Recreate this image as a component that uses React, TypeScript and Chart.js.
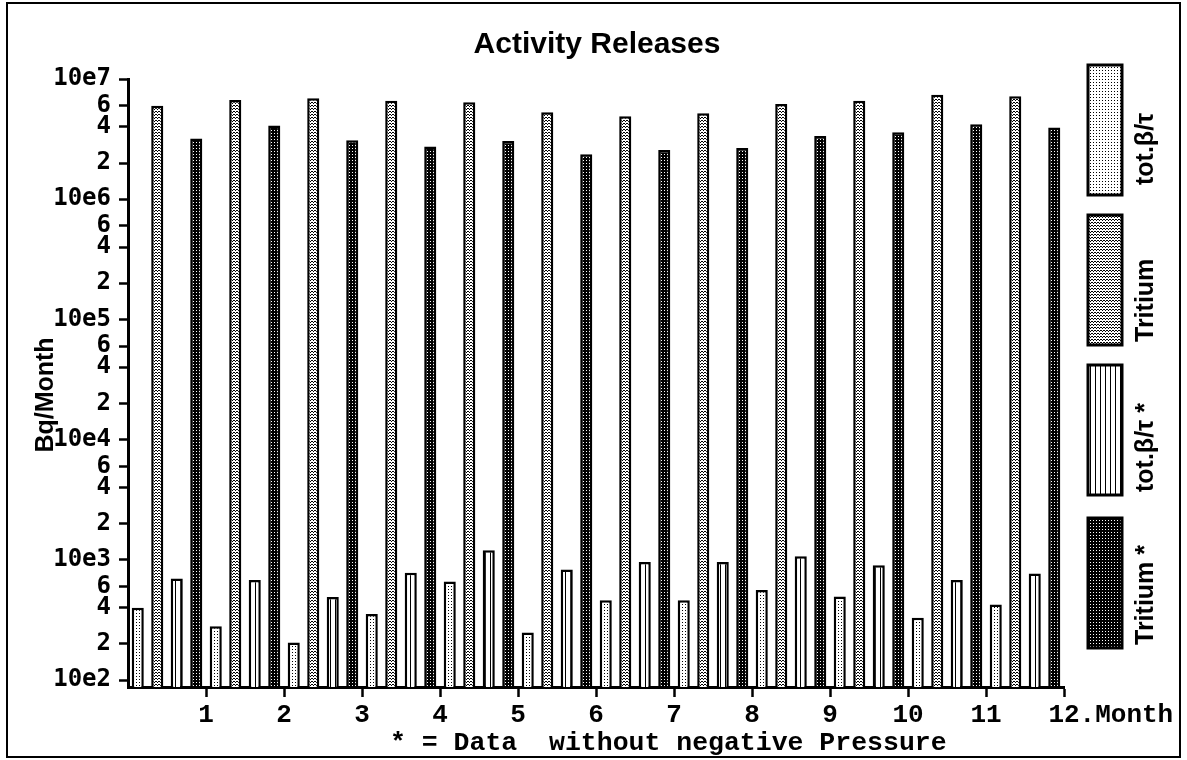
import React, { useEffect, useRef } from "react";
import { Chart, registerables } from "chart.js";

Chart.register(...registerables);

// ---------- data ----------
const MONTHS = ["1", "2", "3", "4", "5", "6", "7", "8", "9", "10", "11", "12"];
const SERIES_LABELS = ["tot.β/τ", "Tritium", "tot.β/τ *", "Tritium *"];
const TOT_BETA = [400, 280, 205, 355, 660, 248, 460, 460, 560, 495, 330, 425];
const TRITIUM = [6.0e6, 6.7e6, 6.9e6, 6.6e6, 6.4e6, 5.3e6, 4.9e6, 5.2e6, 6.2e6, 6.6e6, 7.4e6, 7.2e6];
const TOT_BETA_STAR = [700, 680, 490, 780, 1200, 830, 960, 960, 1070, 900, 680, 770];
const TRITIUM_STAR = [3.2e6, 4.1e6, 3.1e6, 2.75e6, 3.05e6, 2.37e6, 2.57e6, 2.67e6, 3.35e6, 3.6e6, 4.2e6, 3.95e6];
const Y_TICKS = [
  1e2, 2e2, 4e2, 6e2, 1e3, 2e3, 4e3, 6e3, 1e4, 2e4, 4e4, 6e4,
  1e5, 2e5, 4e5, 6e5, 1e6, 2e6, 4e6, 6e6, 1e7,
];
const X_TICK_VALUES = [1, 2, 3, 4, 5, 6, 7, 8, 9, 10, 11, 12];
const X_TICK_LABELS = ["1", "2", "3", "4", "5", "6", "7", "8", "9", "10", "11", "12.Month"];
const TITLE = "Activity Releases";
const Y_TITLE = "Bq/Month";
const FOOTNOTE = "* = Data  without negative Pressure";

// ---------- layout constants ----------
const W = 1187;
const H = 760;
const LEGEND_TOPS = [65, 215, 365, 518];
const LEGEND_TEXT_START = [185, 342, 492, 645];
const PATTERN_KINDS = ["sparse", "medium", "lines", "dark"];

function makePattern(kind: string): CanvasPattern | string {
  const c = document.createElement("canvas");
  let w = 3;
  let h = 3;
  if (kind === "lines") {
    w = 5;
    h = 1;
  }
  c.width = w;
  c.height = h;
  const g = c.getContext("2d")!;
  g.fillStyle = "#fff";
  g.fillRect(0, 0, w, h);
  g.fillStyle = "#000";
  if (kind === "sparse") g.fillRect(1, 1, 1, 1);
  else if (kind === "medium") {
    g.fillRect(0, 0, 1, 1);
    g.fillRect(1, 1, 1, 1);
    g.fillRect(2, 0, 1, 1);
  } else if (kind === "lines") g.fillRect(0, 0, 1, 1);
  else if (kind === "dark") {
    g.fillRect(0, 0, 3, 3);
    g.fillStyle = "#fff";
    g.fillRect(1, 1, 1, 1);
  }
  return g.createPattern(c, "repeat") || "#888";
}

function yLabel(v: number): string {
  const e = Math.round(Math.log10(v));
  if (Math.abs(v - Math.pow(10, e)) < 1e-6 * v) return "10e" + e;
  return String(Math.round(v / Math.pow(10, Math.floor(Math.log10(v)))));
}

const decorPlugin = {
  id: "decor",
  afterDraw(chart: any) {
    const ctx = chart.ctx as CanvasRenderingContext2D;
    ctx.save();
    ctx.fillStyle = "#000";
    // title
    ctx.font = 'bold 30px "Liberation Sans", Arial, sans-serif';
    ctx.textAlign = "center";
    ctx.textBaseline = "alphabetic";
    ctx.fillText(TITLE, 597, 53);
    // y axis title
    ctx.save();
    ctx.translate(53, 395);
    ctx.rotate(-Math.PI / 2);
    ctx.font = 'bold 25px "Liberation Sans", Arial, sans-serif';
    ctx.textAlign = "center";
    ctx.fillText(Y_TITLE, 0, 0);
    ctx.restore();
    // footnote
    ctx.font = 'bold 26.5px "Liberation Mono", monospace';
    ctx.textAlign = "left";
    ctx.fillText(FOOTNOTE, 390, 750);
    // legend
    chart.data.datasets.forEach((ds: any, i: number) => {
      const top = LEGEND_TOPS[i];
      ctx.fillStyle = ds.backgroundColor;
      ctx.fillRect(1088, top, 34, 130);
      ctx.lineWidth = 3;
      ctx.strokeStyle = "#000";
      ctx.strokeRect(1088, top, 34, 130);
      ctx.save();
      ctx.translate(1153, LEGEND_TEXT_START[i]);
      ctx.rotate(-Math.PI / 2);
      ctx.font = 'bold 25px "Liberation Sans", Arial, sans-serif';
      ctx.fillStyle = "#000";
      ctx.textAlign = "left";
      ctx.textBaseline = "alphabetic";
      ctx.fillText(ds.label, 0, 0);
      ctx.restore();
    });
    // frame
    ctx.lineWidth = 2;
    ctx.strokeStyle = "#000";
    ctx.strokeRect(7, 3, 1173, 754);
    ctx.restore();
  },
};

export default function App() {
  const ref = useRef<HTMLCanvasElement | null>(null);

  useEffect(() => {
    if (!ref.current) return;
    const patterns = PATTERN_KINDS.map(makePattern);
    const seriesValues = [TOT_BETA, TRITIUM, TOT_BETA_STAR, TRITIUM_STAR];
    const chart = new Chart(ref.current, {
      type: "bar",
      data: {
        labels: MONTHS,
        datasets: seriesValues.map((vals, i) => ({
          label: SERIES_LABELS[i],
          data: vals,
          backgroundColor: patterns[i] as any,
          borderColor: "#000",
          borderWidth: 2.5,
          categoryPercentage: 1,
          barPercentage: 0.62,
          xAxisID: "x",
          yAxisID: "y",
        })),
      },
      options: {
        responsive: false,
        animation: false,
        layout: { padding: { left: 0, top: 79, right: W - 1064, bottom: 0 } },
        plugins: {
          legend: { display: false },
          title: { display: false },
          tooltip: { enabled: false },
        },
        scales: {
          x: {
            type: "category",
            display: false,
            offset: true,
          },
          xl: {
            type: "linear",
            position: "bottom",
            min: 0,
            max: 12,
            offset: false,
            afterBuildTicks: (s: any) => {
              s.ticks = X_TICK_VALUES.map((v) => ({ value: v }));
            },
            afterFit: (s: any) => {
              s.height = H - 687;
            },
            ticks: {
              autoSkip: false,
              maxRotation: 0,
              minRotation: 0,
              padding: 3,
              color: "#000",
              font: { family: '"Liberation Mono", monospace', weight: "bold", size: 26 },
              callback: (v: any) => {
                const idx = X_TICK_VALUES.indexOf(Number(v));
                const lab = idx >= 0 ? X_TICK_LABELS[idx] : "";
                // keep the month number centred on its tick (monospace)
                const num = String(X_TICK_VALUES[idx] ?? "");
                const extra = lab.length - num.length;
                return " ".repeat(Math.max(0, extra)) + lab;
              },
            },
            grid: {
              offset: false,
              drawOnChartArea: false,
              drawTicks: true,
              tickLength: 10,
              tickWidth: 2.5,
              tickColor: "#000",
              color: "#000",
            },
            border: { display: true, color: "#000", width: 3 },
          } as any,
          y: {
            type: "logarithmic",
            min: 87.5,
            max: 1e7,
            afterBuildTicks: (s: any) => {
              s.ticks = Y_TICKS.map((v) => ({ value: v }));
            },
            afterFit: (s: any) => {
              s.width = 128;
            },
            ticks: {
              autoSkip: false,
              padding: 8,
              color: "#000",
              font: { family: '"DejaVu Sans Mono", monospace', weight: "bold", size: 24 },
              callback: (v: any) => yLabel(Number(v)),
            },
            grid: {
              drawOnChartArea: false,
              drawTicks: true,
              tickLength: 9,
              tickWidth: 2.5,
              tickColor: "#000",
              color: "#000",
            },
            border: { display: true, color: "#000", width: 3 },
          } as any,
        },
      },
      plugins: [decorPlugin],
    });
    return () => chart.destroy();
  }, []);

  return (
    <div style={{ position: "absolute", left: 0, top: 0, width: W, height: H, background: "#fff" }}>
      <canvas ref={ref} width={W} height={H} style={{ display: "block" }} />
    </div>
  );
}
